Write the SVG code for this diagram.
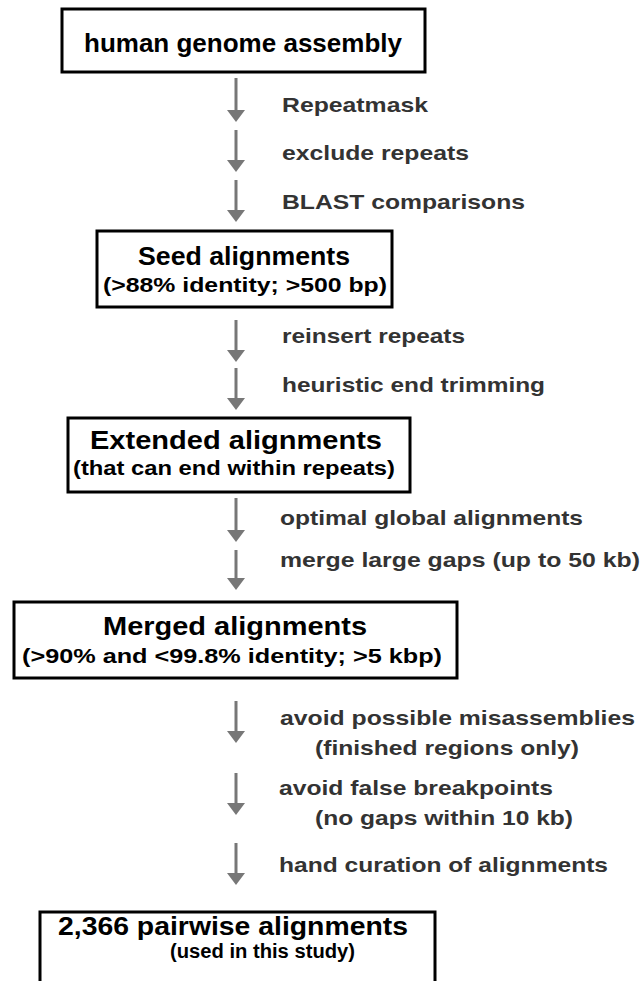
<svg xmlns="http://www.w3.org/2000/svg" width="644" height="981" viewBox="0 0 644 981">
<style>
.box{fill:#fff;stroke:#000;stroke-width:3}
.t{font-family:"Liberation Sans",Arial,sans-serif;font-weight:bold;fill:#000}
.ti{font-size:25px}
.su{font-size:20px}
.lb{font-family:"Liberation Sans",Arial,sans-serif;font-weight:bold;fill:#333;font-size:21px}
.ar{stroke:#777;stroke-width:3;fill:none;marker-end:url(#ah)}
</style>
<defs>
<marker id="ah" markerUnits="userSpaceOnUse" markerWidth="12" markerHeight="18" viewBox="0 0 12 18" refX="1" refY="9" orient="auto"><path d="M0,0 L12,9 L0,18 Z" fill="#777"/></marker>
</defs>
<rect width="644" height="981" fill="#fff"/>
<g id="n1">
<rect class="box" x="62" y="9" width="363" height="63"/>
<text class="t ti" x="84" y="52" textLength="318" lengthAdjust="spacingAndGlyphs">human genome assembly</text>
</g>
<g id="n2">
<rect class="box" x="97" y="231" width="295" height="76"/>
<text class="t ti" x="138" y="265" textLength="212" lengthAdjust="spacingAndGlyphs">Seed alignments</text>
<text class="t su" x="103" y="292" textLength="284" lengthAdjust="spacingAndGlyphs">(&gt;88% identity; &gt;500 bp)</text>
</g>
<g id="n3">
<rect class="box" x="68" y="418" width="342" height="74"/>
<text class="t ti" x="90" y="449" textLength="292" lengthAdjust="spacingAndGlyphs">Extended alignments</text>
<text class="t su" x="73" y="475" textLength="322" lengthAdjust="spacingAndGlyphs">(that can end within repeats)</text>
</g>
<g id="n4">
<rect class="box" x="14" y="602" width="443" height="76"/>
<text class="t ti" x="103" y="635" textLength="264" lengthAdjust="spacingAndGlyphs">Merged alignments</text>
<text class="t su" x="22" y="663" textLength="420" lengthAdjust="spacingAndGlyphs">(&gt;90% and &lt;99.8% identity; &gt;5 kbp)</text>
</g>
<g id="n5">
<rect class="box" x="40" y="912" width="395" height="76"/>
<text class="t ti" x="58" y="935" textLength="350" lengthAdjust="spacingAndGlyphs">2,366 pairwise alignments</text>
<text class="t su" x="170" y="958" textLength="185" lengthAdjust="spacingAndGlyphs">(used in this study)</text>
</g>
<g id="connectors">
<line class="ar" x1="236" y1="78" x2="236" y2="111"/>
<line class="ar" x1="236" y1="130" x2="236" y2="161"/>
<line class="ar" x1="236" y1="180" x2="236" y2="211"/>
<line class="ar" x1="236" y1="320" x2="236" y2="351"/>
<line class="ar" x1="236" y1="368" x2="236" y2="399"/>
<line class="ar" x1="236" y1="498" x2="236" y2="531"/>
<line class="ar" x1="236" y1="550" x2="236" y2="579"/>
<line class="ar" x1="236" y1="701" x2="236" y2="732"/>
<line class="ar" x1="236" y1="773" x2="236" y2="804"/>
<line class="ar" x1="236" y1="843" x2="236" y2="874"/>
</g>
<g id="labels">
<text class="lb" x="282" y="112" textLength="146" lengthAdjust="spacingAndGlyphs">Repeatmask</text>
<text class="lb" x="282" y="160" textLength="187" lengthAdjust="spacingAndGlyphs">exclude repeats</text>
<text class="lb" x="282" y="209" textLength="243" lengthAdjust="spacingAndGlyphs">BLAST comparisons</text>
<text class="lb" x="282" y="343" textLength="183" lengthAdjust="spacingAndGlyphs">reinsert repeats</text>
<text class="lb" x="282" y="392" textLength="263" lengthAdjust="spacingAndGlyphs">heuristic end trimming</text>
<text class="lb" x="280" y="525" textLength="303" lengthAdjust="spacingAndGlyphs">optimal global alignments</text>
<text class="lb" x="280" y="567" textLength="360" lengthAdjust="spacingAndGlyphs">merge large gaps (up to 50 kb)</text>
<text class="lb" x="280" y="725" textLength="355" lengthAdjust="spacingAndGlyphs">avoid possible misassemblies</text>
<text class="lb" x="315" y="755" textLength="264" lengthAdjust="spacingAndGlyphs">(finished regions only)</text>
<text class="lb" x="279" y="795" textLength="274" lengthAdjust="spacingAndGlyphs">avoid false breakpoints</text>
<text class="lb" x="315" y="825" textLength="258" lengthAdjust="spacingAndGlyphs">(no gaps within 10 kb)</text>
<text class="lb" x="279" y="872" textLength="329" lengthAdjust="spacingAndGlyphs">hand curation of alignments</text>
</g>
</svg>
